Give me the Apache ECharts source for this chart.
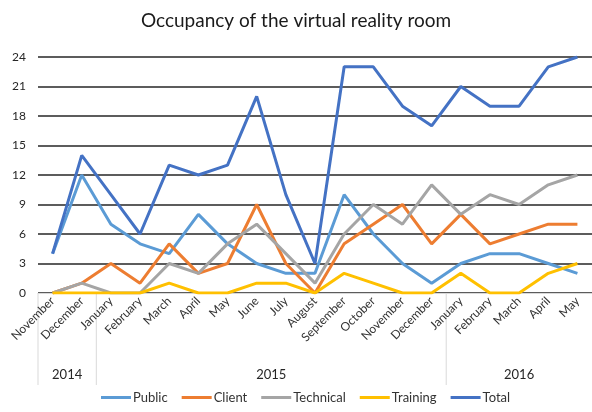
<!DOCTYPE html>
<html lang="en">
<head>
    <meta charset="UTF-8">
    <title>Occupancy of the virtual reality room</title>
    <script src="https://cdn.jsdelivr.net/npm/echarts@6/dist/echarts.min.js"></script>
</head>
<body style="margin:0">
<div id="main" style="width:592px;height:412px;"></div>
<script type="text/javascript">
    // months Nov 2014 .. May 2016
    var months = ['November', 'December', 'January', 'February', 'March', 'April', 'May', 'June', 'July',
        'August', 'September', 'October', 'November', 'December', 'January', 'February', 'March', 'April', 'May'];
    // years: label, first month index, last month index
    var years = ['2014', '2015', '2016'];
    var yearStart = [0, 2, 14];
    var yearEnd = [1, 13, 18];

    var publicData = [4, 12, 7, 5, 4, 8, 5, 3, 2, 2, 10, 6, 3, 1, 3, 4, 4, 3, 2];
    var clientData = [0, 1, 3, 1, 5, 2, 3, 9, 3, 0, 5, 7, 9, 5, 8, 5, 6, 7, 7];
    var technicalData = [0, 1, 0, 0, 3, 2, 5, 7, 4, 1, 6, 9, 7, 11, 8, 10, 9, 11, 12];
    var trainingData = [0, 0, 0, 0, 1, 0, 0, 1, 1, 0, 2, 1, 0, 0, 2, 0, 0, 2, 3];
    var totalData = [4, 14, 10, 6, 13, 12, 13, 20, 10, 3, 23, 23, 19, 17, 21, 19, 19, 23, 24];

    var seriesNames = ['Public', 'Client', 'Technical', 'Training', 'Total'];
    var seriesData = [publicData, clientData, technicalData, trainingData, totalData];
    var colors = ['#5B9BD5', '#ED7D31', '#A5A5A5', '#FFC000', '#4472C4'];

    var font = 'Lato, "Open Sans", sans-serif';
    var myChart = echarts.init(document.getElementById('main'));

    var series = [];
    for (var i = 0; i < seriesNames.length; i++) {
        series.push({
            name: seriesNames[i],
            type: 'line',
            data: seriesData[i],
            showSymbol: false,
            symbol: 'none',
            lineStyle: {width: 3, color: colors[i]},
            itemStyle: {color: colors[i]}
        });
    }

    var option = {
        animation: false,
        textStyle: {fontFamily: font},
        title: {
            text: 'Occupancy of the virtual reality room',
            left: 'center',
            top: 6,
            textStyle: {fontFamily: font, fontSize: 19, fontWeight: 'normal', color: '#1a1a1a'}
        },
        legend: {
            bottom: 3,
            left: 96,
            icon: 'rect',
            itemWidth: 30,
            itemHeight: 3,
            itemGap: 14,
            textStyle: {fontFamily: font, fontSize: 13, color: '#333', padding: [0, 0, 0, -3]},
            data: seriesNames
        },
        grid: {left: 38, top: 57, width: 556, height: 236, containLabel: false},
        xAxis: {
            type: 'category',
            data: months,
            boundaryGap: true,
            axisLine: {lineStyle: {color: '#d9d9d9', width: 1}},
            axisTick: {show: false},
            axisLabel: {rotate: 45, interval: 0, margin: 6, fontSize: 12, color: '#333', fontFamily: font}
        },
        yAxis: {
            type: 'value',
            min: 0,
            max: 24,
            interval: 3,
            axisLine: {show: false},
            axisTick: {show: false},
            axisLabel: {fontSize: 12, color: '#262626', margin: 12, fontFamily: font},
            splitLine: {lineStyle: {color: '#262626', width: 1.5}}
        },
        series: series
    };

    myChart.setOption(option);

    // year separators and labels below the month labels
    var x0 = myChart.convertToPixel({xAxisIndex: 0}, 0);
    var x1 = myChart.convertToPixel({xAxisIndex: 0}, 1);
    var half = (x1 - x0) / 2;
    var axisY = myChart.convertToPixel({yAxisIndex: 0}, 0);
    var graphics = [];
    for (var k = 0; k < years.length; k++) {
        var left = myChart.convertToPixel({xAxisIndex: 0}, yearStart[k]) - half;
        var right = myChart.convertToPixel({xAxisIndex: 0}, yearEnd[k]) + half;
        graphics.push({
            type: 'line',
            shape: {x1: left, y1: axisY, x2: left, y2: axisY + 92},
            style: {stroke: '#d9d9d9', lineWidth: 1}
        });
        graphics.push({
            type: 'text',
            x: (left + right) / 2,
            y: axisY + 82,
            style: {text: years[k], fill: '#262626', font: '13px ' + font, textAlign: 'center', textVerticalAlign: 'middle'}
        });
    }
    myChart.setOption({graphic: graphics});
</script>
</body>
</html>
